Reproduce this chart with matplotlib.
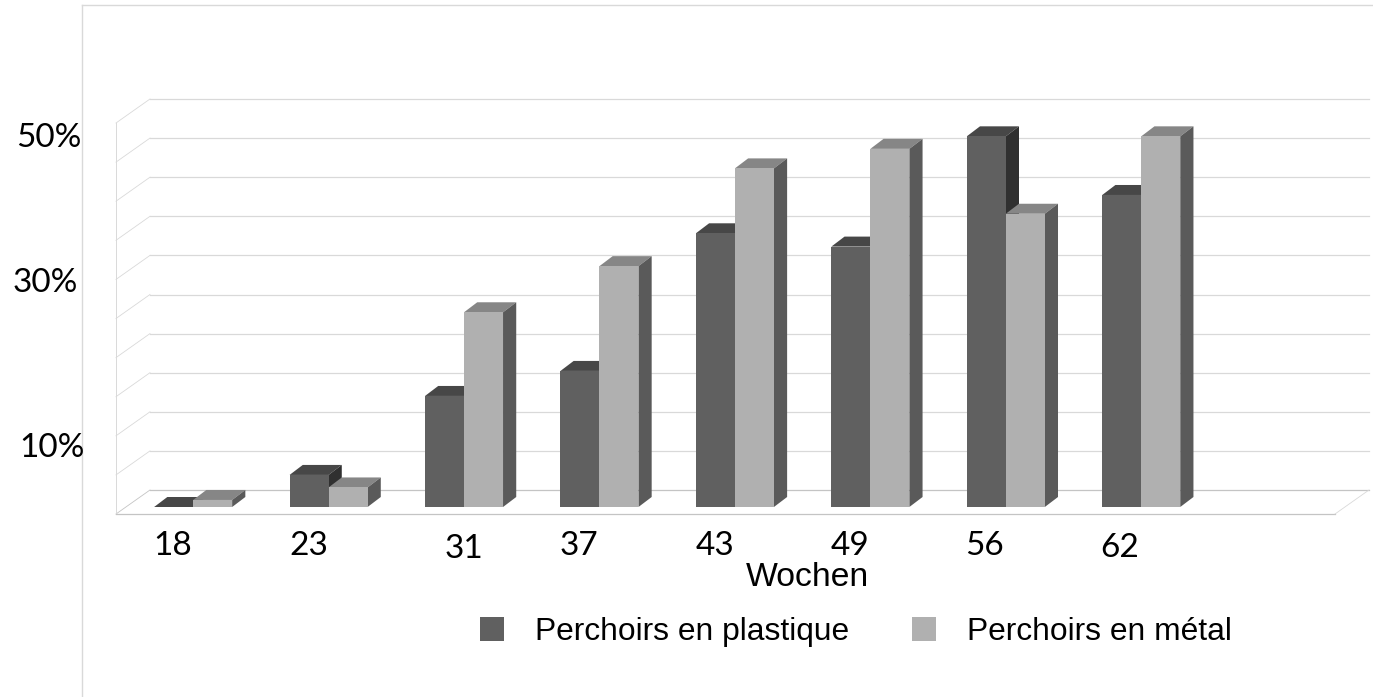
import matplotlib
matplotlib.use('Agg')
import matplotlib.pyplot as plt

# Werte (%)
weeks = ['18', '23', '31', '37', '43', '49', '56', '62']
plastique = [0.0, 4.1, 14.2, 17.4, 35.0, 33.3, 47.4, 39.9]
metal = [0.9, 2.5, 24.9, 30.8, 43.3, 45.8, 37.5, 47.4]
grid_values = [0, 5, 10, 15, 20, 25, 30, 35, 40, 45, 50]
y_labels = ['50%', '30%', '10%']
series_names = ['Perchoirs en plastique', 'Perchoirs en métal']

W, H = 1373, 697
n_slots = 9
bar_w = 0.288
# Tiefe des Bodens in Datenwerten (34 px / 24 px)
DX = 34 / 135.5
DY = 24 / 7.82
d_front = 7 / 24
# Tiefe der Balken (13 px / 10 px)
bar_dx = 13.2 / 135.5
bar_dy = 10 / 7.82

plastic_cols = ('#606060', '#474747', '#303030')
metal_cols = ('#b0b0b0', '#868686', '#5a5a5a')
grid_col = '#d9d9d9'
floor_col = '#c4c4c4'


def fx(px):
    return px / W


def fy(py):
    return 1 - py / H


fig = plt.figure(figsize=(W / 100, H / 100), dpi=100)

# aeusserer Rahmen (nur oben und links)
bg = fig.add_axes([fx(82), 0, 1 - fx(82) + 0.01, fy(5)])
bg.set_xticks([])
bg.set_yticks([])
bg.spines['right'].set_visible(False)
bg.spines['bottom'].set_visible(False)
for s in ('left', 'top'):
    bg.spines[s].set_color(grid_col)
    bg.spines[s].set_linewidth(1.0)

ax = fig.add_axes([fx(116), fy(514), fx(1335) - fx(116), fy(123) - fy(514)])
ax.set_xlim(0, n_slots)
ax.set_ylim(0, 50)
ax.axis('off')
ax.patch.set_alpha(0)

# Gitter
for v in grid_values:
    col = floor_col if v == 0 else grid_col
    ax.plot([0, DX], [v, v + DY], color=col, lw=0.6, clip_on=False, zorder=1)
    ax.plot([DX, n_slots + DX], [v + DY, v + DY], color=col, lw=0.9,
            clip_on=False, zorder=1)
ax.plot([0, 0], [0, 50], color=grid_col, lw=0.7, clip_on=False, zorder=1)
ax.plot([0, n_slots], [0, 0], color=floor_col, lw=0.9, clip_on=False, zorder=1)
ax.plot([n_slots, n_slots + DX], [0, DY], color=grid_col, lw=0.6,
        clip_on=False, zorder=1)


def draw_bar(x_left, value, cols, z):
    base = d_front * DY
    x0 = x_left + d_front * DX - 0.5 / 135.5
    x1 = x0 + bar_w
    top = base + value
    cont = ax.bar(x0, value, bar_w, bottom=base, align='edge', color=cols[0],
                  zorder=z + 0.2, clip_on=False)
    ax.fill([x0, x1, x1 + bar_dx, x0 + bar_dx],
            [top, top, top + bar_dy, top + bar_dy],
            color=cols[1], lw=0, zorder=z + 0.1, clip_on=False)
    ax.fill([x1, x1 + bar_dx, x1 + bar_dx, x1],
            [base, base + bar_dy, top + bar_dy, top],
            color=cols[2], lw=0, zorder=z + 0.1, clip_on=False)
    return cont


handles = [None, None]
for i in range(len(weeks)):
    start = i + 0.5 - bar_w
    h1 = draw_bar(start, plastique[i], plastic_cols, 3)
    h2 = draw_bar(start + bar_w, metal[i], metal_cols, 4)
    handles = [h1, h2]

# Beschriftungen
tick_font = ['Lato', 'DejaVu Sans']
label_pos = [(173, 546), (309, 546), (464, 549), (579, 546),
             (715, 546), (850, 546), (985, 546), (1120, 548)]
for lab, (px, py) in zip(weeks, label_pos):
    fig.text(fx(px), fy(py), lab, ha='center', va='center', fontsize=24,
             family=tick_font, color='black')
for lab, (px, py) in zip(y_labels, [(49, 138), (45, 283), (52, 448)]):
    fig.text(fx(px), fy(py), lab, ha='center', va='center', fontsize=24,
             family=tick_font, color='black')

fig.text(fx(807), fy(577), 'Wochen', ha='center', va='center', fontsize=24.3,
         family='Liberation Sans', color='black')

leg = ax.legend(handles, series_names, loc='center left',
                bbox_to_anchor=(fx(480), fy(632)), bbox_transform=fig.transFigure,
                ncol=2, frameon=False, borderpad=0, borderaxespad=0,
                handlelength=0.75, handleheight=0.78, handletextpad=0.97,
                columnspacing=1.98,
                prop={'family': 'Liberation Sans', 'size': 22.9})

fig.savefig('out.png', dpi=100, facecolor='white')
